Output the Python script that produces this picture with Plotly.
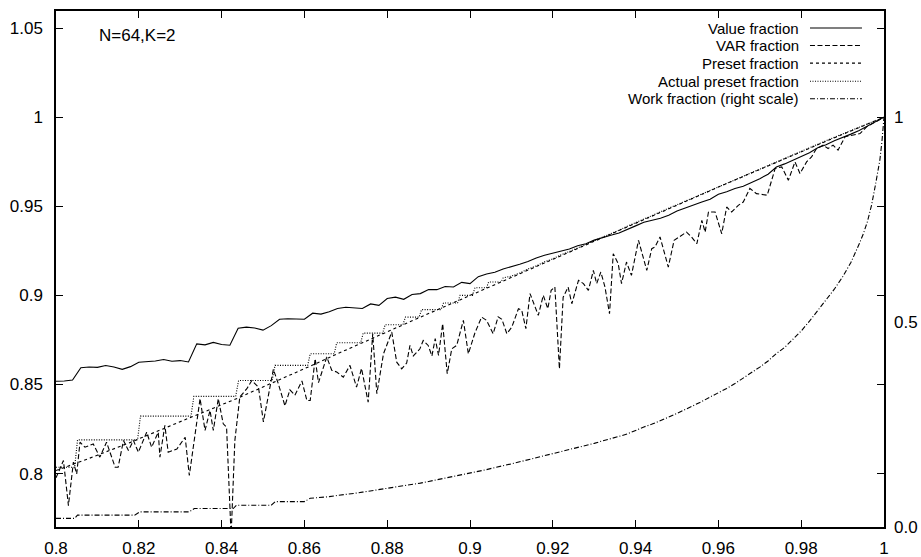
import numpy as np
import plotly.graph_objects as go

# ---------------- data ----------------
x_grid = np.round(np.linspace(0.8, 1.0, 101), 3)

value_fraction = [
    0.8518, 0.8519, 0.8525, 0.8594, 0.8598, 0.8596, 0.8606, 0.8598, 0.8585, 0.8600,
    0.8625, 0.8628, 0.8632, 0.8640, 0.8630, 0.8634, 0.8626, 0.8728, 0.8722, 0.8736,
    0.8724, 0.8720, 0.8815, 0.8822, 0.8817, 0.8805, 0.8830, 0.8866, 0.8869, 0.8867,
    0.8866, 0.8900, 0.8895, 0.8908, 0.8926, 0.8933, 0.8930, 0.8926, 0.8952, 0.8944,
    0.8982, 0.8990, 0.8978, 0.9005, 0.9010, 0.9033, 0.9032, 0.9050, 0.9047, 0.9073,
    0.9066, 0.9105, 0.9120, 0.9130, 0.9148, 0.9160, 0.9175, 0.9190, 0.9210, 0.9225,
    0.9238, 0.9250, 0.9260, 0.9278, 0.9290, 0.9310, 0.9325, 0.9337, 0.9350, 0.9368,
    0.9390, 0.9410, 0.9422, 0.9433, 0.9450, 0.9474, 0.9490, 0.9505, 0.9524, 0.9540,
    0.9568, 0.9582, 0.9600, 0.9612, 0.9632, 0.9655, 0.9680, 0.9720, 0.9738, 0.9760,
    0.9780, 0.9800, 0.9828, 0.9845, 0.9868, 0.9885, 0.9905, 0.9925, 0.9950, 0.9972,
    1.0000,
]

preset_fraction = [
    0.8017, 0.8033, 0.8050, 0.8068, 0.8085, 0.8103, 0.8120, 0.8138, 0.8155, 0.8175,
    0.8195, 0.8213, 0.8232, 0.8252, 0.8272, 0.8292, 0.8312, 0.8330, 0.8348, 0.8367,
    0.8385, 0.8404, 0.8424, 0.8445, 0.8465, 0.8486, 0.8506, 0.8527, 0.8547, 0.8568,
    0.8588, 0.8609, 0.8630, 0.8652, 0.8673, 0.8693, 0.8714, 0.8734, 0.8755, 0.8775,
    0.8796, 0.8816, 0.8837, 0.8857, 0.8878, 0.8898, 0.8918, 0.8939, 0.8959, 0.8980,
    0.9000, 0.9020, 0.9040, 0.9060, 0.9081, 0.9101, 0.9121, 0.9141, 0.9161, 0.9182,
    0.9202, 0.9222, 0.9242, 0.9263, 0.9283, 0.9303, 0.9323, 0.9344, 0.9364, 0.9384,
    0.9404, 0.9425, 0.9445, 0.9465, 0.9486, 0.9506, 0.9526, 0.9547, 0.9567, 0.9587,
    0.9608, 0.9628, 0.9648, 0.9669, 0.9689, 0.9709, 0.9729, 0.9749, 0.9768, 0.9788,
    0.9808, 0.9827, 0.9846, 0.9865, 0.9884, 0.9903, 0.9922, 0.9942, 0.9961, 0.9981,
    1.0000,
]

actual_x = [
    0.8000, 0.8045, 0.8052, 0.8197, 0.8204, 0.8326, 0.8333, 0.8434, 0.8441, 0.8522,
    0.8529, 0.8608, 0.8614, 0.8672, 0.8678, 0.8736, 0.8742, 0.8789, 0.8795, 0.8838,
    0.8844, 0.8877, 0.8883, 0.8930, 0.8936, 0.8970, 0.8976, 0.9006, 0.9012, 0.9040,
    0.9045, 0.9075, 0.9080, 0.9100, 0.9120, 0.9140, 0.9160, 0.9180, 0.9200, 0.9220,
    0.9240, 0.9260, 0.9280, 0.9300, 0.9320, 0.9340, 0.9360, 0.9380, 0.9400, 0.9420,
    0.9440, 0.9460, 0.9480, 0.9500, 0.9520, 0.9540, 0.9560, 0.9580, 0.9600, 0.9620,
    0.9640, 0.9660, 0.9680, 0.9700, 0.9720, 0.9740, 0.9760, 0.9780, 0.9800, 0.9820,
    0.9840, 0.9860, 0.9880, 0.9900, 0.9920, 0.9940, 0.9960, 0.9980, 1.0000,
]
actual_preset = [
    0.8035, 0.8035, 0.8189, 0.8189, 0.8322, 0.8322, 0.8433, 0.8433, 0.8522, 0.8522,
    0.8607, 0.8607, 0.8672, 0.8672, 0.8734, 0.8734, 0.8788, 0.8788, 0.8835, 0.8835,
    0.8878, 0.8878, 0.8920, 0.8920, 0.8957, 0.8957, 0.9000, 0.9000, 0.9043, 0.9043,
    0.9075, 0.9075, 0.9098, 0.9108, 0.9125, 0.9148, 0.9165, 0.9188, 0.9205, 0.9228,
    0.9246, 0.9268, 0.9286, 0.9307, 0.9326, 0.9348, 0.9366, 0.9388, 0.9407, 0.9429,
    0.9448, 0.9469, 0.9489, 0.9510, 0.9529, 0.9551, 0.9570, 0.9591, 0.9611, 0.9632,
    0.9651, 0.9672, 0.9692, 0.9712, 0.9732, 0.9752, 0.9771, 0.9791, 0.9811, 0.9830,
    0.9849, 0.9868, 0.9887, 0.9906, 0.9925, 0.9944, 0.9963, 0.9982, 1.0000,
]

var_x = [
    0.8000, 0.8018, 0.8030, 0.8042, 0.8050, 0.8058, 0.8070, 0.8090, 0.8106, 0.8122,
    0.8143, 0.8150, 0.8163, 0.8175, 0.8187, 0.8199, 0.8219, 0.8231, 0.8247, 0.8251,
    0.8263, 0.8271, 0.8292, 0.8312, 0.8322, 0.8348, 0.8360, 0.8372, 0.8380, 0.8392,
    0.8404, 0.8412, 0.8423, 0.8432, 0.8444, 0.8461, 0.8473, 0.8489, 0.8501, 0.8525,
    0.8537, 0.8553, 0.8565, 0.8577, 0.8594, 0.8606, 0.8614, 0.8626, 0.8634, 0.8654,
    0.8666, 0.8678, 0.8694, 0.8710, 0.8726, 0.8738, 0.8754, 0.8765, 0.8775, 0.8791,
    0.8811, 0.8823, 0.8835, 0.8847, 0.8855, 0.8863, 0.8879, 0.8887, 0.8899, 0.8908,
    0.8916, 0.8924, 0.8934, 0.8945, 0.8956, 0.8968, 0.8984, 0.8996, 0.9012, 0.9028,
    0.9040, 0.9056, 0.9068, 0.9077, 0.9089, 0.9101, 0.9117, 0.9125, 0.9135, 0.9145,
    0.9165, 0.9177, 0.9188, 0.9196, 0.9205, 0.9216, 0.9225, 0.9237, 0.9246, 0.9262,
    0.9274, 0.9286, 0.9298, 0.9306, 0.9316, 0.9326, 0.9337, 0.9346, 0.9358, 0.9366,
    0.9378, 0.9390, 0.9407, 0.9427, 0.9439, 0.9447, 0.9459, 0.9479, 0.9493, 0.9515,
    0.9523, 0.9535, 0.9548, 0.9560, 0.9568, 0.9576, 0.9592, 0.9608, 0.9620, 0.9632,
    0.9648, 0.9660, 0.9676, 0.9692, 0.9718, 0.9737, 0.9753, 0.9769, 0.9785, 0.9797,
    0.9813, 0.9825, 0.9837, 0.9853, 0.9865, 0.9877, 0.9889, 0.9906, 0.9926, 0.9942,
    0.9958, 1.0000,
]
var_fraction = [
    0.7976, 0.8073, 0.7820, 0.8064, 0.7998, 0.8176, 0.8148, 0.8166, 0.8092, 0.8176,
    0.8035, 0.8035, 0.8185, 0.8129, 0.8185, 0.8120, 0.8232, 0.8148, 0.8232, 0.8092,
    0.8270, 0.8120, 0.8138, 0.8204, 0.7989, 0.8420, 0.8242, 0.8354, 0.8242, 0.8420,
    0.8279, 0.8260, 0.7650, 0.8185, 0.8430, 0.8476, 0.8522, 0.8485, 0.8290, 0.8585,
    0.8504, 0.8380, 0.8470, 0.8440, 0.8520, 0.8410, 0.8410, 0.8644, 0.8510, 0.8654,
    0.8580, 0.8570, 0.8541, 0.8607, 0.8485, 0.8590, 0.8401, 0.8785, 0.8448, 0.8672,
    0.8794, 0.8625, 0.8588, 0.8620, 0.8719, 0.8660, 0.8700, 0.8747, 0.8719, 0.8660,
    0.8757, 0.8663, 0.8841, 0.8560, 0.8700, 0.8720, 0.8860, 0.8672, 0.8790, 0.8878,
    0.8860, 0.8785, 0.8880, 0.8866, 0.8785, 0.8822, 0.8925, 0.8916, 0.8813, 0.9010,
    0.8888, 0.9000, 0.8925, 0.9028, 0.9047, 0.8588, 0.8990, 0.9047, 0.8953, 0.9084,
    0.9066, 0.9028, 0.9140, 0.9066, 0.9131, 0.9047, 0.8897, 0.9234, 0.9178, 0.9066,
    0.9187, 0.9112, 0.9309, 0.9140, 0.9262, 0.9272, 0.9328, 0.9159, 0.9309, 0.9346,
    0.9355, 0.9328, 0.9290, 0.9421, 0.9355, 0.9468, 0.9468, 0.9346, 0.9496, 0.9468,
    0.9505, 0.9524, 0.9600, 0.9571, 0.9562, 0.9712, 0.9721, 0.9646, 0.9749, 0.9684,
    0.9749, 0.9777, 0.9824, 0.9843, 0.9824, 0.9843, 0.9815, 0.9890, 0.9899, 0.9908,
    0.9946, 1.0000,
]

work_x = [
    0.8000, 0.8045, 0.8052, 0.8190, 0.8203, 0.8322, 0.8334, 0.8428, 0.8436, 0.8520,
    0.8530, 0.8600, 0.8614, 0.8640, 0.8660, 0.8680, 0.8700, 0.8720, 0.8740, 0.8760,
    0.8780, 0.8800, 0.8820, 0.8840, 0.8860, 0.8880, 0.8900, 0.8920, 0.8940, 0.8960,
    0.8980, 0.9000, 0.9020, 0.9040, 0.9060, 0.9080, 0.9100, 0.9120, 0.9140, 0.9160,
    0.9180, 0.9200, 0.9220, 0.9240, 0.9260, 0.9280, 0.9300, 0.9320, 0.9340, 0.9360,
    0.9380, 0.9400, 0.9420, 0.9440, 0.9460, 0.9480, 0.9500, 0.9520, 0.9540, 0.9560,
    0.9580, 0.9600, 0.9620, 0.9640, 0.9660, 0.9680, 0.9700, 0.9720, 0.9740, 0.9760,
    0.9780, 0.9800, 0.9820, 0.9840, 0.9860, 0.9880, 0.9900, 0.9920, 0.9940, 0.9950,
    0.9960, 0.9970, 0.9980, 0.9990, 0.9995, 1.0000,
]
work_fraction = [
    0.021, 0.021, 0.029, 0.029, 0.037, 0.037, 0.045, 0.045, 0.053, 0.053,
    0.062, 0.062, 0.070, 0.072, 0.074, 0.077, 0.079, 0.082, 0.085, 0.088,
    0.091, 0.094, 0.097, 0.100, 0.103, 0.107, 0.111, 0.115, 0.119, 0.123,
    0.127, 0.132, 0.136, 0.140, 0.145, 0.149, 0.154, 0.159, 0.164, 0.169,
    0.174, 0.179, 0.183, 0.188, 0.193, 0.198, 0.204, 0.210, 0.215, 0.221,
    0.227, 0.236, 0.244, 0.251, 0.259, 0.268, 0.277, 0.286, 0.296, 0.306,
    0.317, 0.327, 0.338, 0.350, 0.363, 0.376, 0.390, 0.405, 0.423, 0.438,
    0.458, 0.478, 0.502, 0.528, 0.555, 0.580, 0.610, 0.645, 0.690, 0.715,
    0.745, 0.785, 0.838, 0.895, 0.940, 1.000,
]

x_ticks = [0.8, 0.82, 0.84, 0.86, 0.88, 0.9, 0.92, 0.94, 0.96, 0.98, 1.0]
x_tick_text = ["0.8", "0.82", "0.84", "0.86", "0.88", "0.9", "0.92", "0.94", "0.96", "0.98", "1"]
y_ticks = [0.8, 0.85, 0.9, 0.95, 1.0, 1.05]
y_tick_text = ["0.8", "0.85", "0.9", "0.95", "1", "1.05"]
y2_ticks = [0.0, 0.5, 1.0]
y2_tick_text = ["0.0", "0.5", "1"]

series_names = ["Value fraction", "VAR fraction", "Preset fraction",
                "Actual preset fraction", "Work fraction (right scale)"]
series_dash = ["solid", "5px,2.5px", "3px,3px", "1px,1.5px", "5px,2px,1px,2px"]

# ---------------- figure ----------------
FONT = "Liberation Sans, Arial, Helvetica, sans-serif"
LW = 1.1

fig = go.Figure()
fig.add_trace(go.Scatter(x=x_grid, y=value_fraction, mode="lines",
                         line=dict(color="black", width=LW, dash=series_dash[0]),
                         name=series_names[0]))
fig.add_trace(go.Scatter(x=var_x, y=var_fraction, mode="lines",
                         line=dict(color="black", width=LW, dash=series_dash[1]),
                         name=series_names[1]))
fig.add_trace(go.Scatter(x=x_grid, y=preset_fraction, mode="lines",
                         line=dict(color="black", width=LW, dash=series_dash[2]),
                         name=series_names[2]))
fig.add_trace(go.Scatter(x=actual_x, y=actual_preset, mode="lines",
                         line=dict(color="black", width=LW, dash=series_dash[3]),
                         name=series_names[3]))
fig.add_trace(go.Scatter(x=work_x, y=work_fraction, mode="lines", yaxis="y2",
                         line=dict(color="black", width=LW, dash=series_dash[4]),
                         name=series_names[4]))

axis_common = dict(showgrid=False, zeroline=False, showline=True, linecolor="black",
                   linewidth=1.5, ticks="inside", ticklen=7, tickwidth=1.2,
                   tickcolor="black", mirror="ticks", automargin=False,
                   tickfont=dict(family=FONT, size=17, color="black"))

fig.update_layout(
    width=921, height=557,
    margin=dict(l=56, r=37, t=11, b=30),
    paper_bgcolor="white", plot_bgcolor="white",
    showlegend=False,
    xaxis=dict(range=[0.8, 1.0], tickvals=x_ticks, ticktext=x_tick_text,
               ticklabelstandoff=5, **axis_common),
    yaxis=dict(range=[0.77, 1.0596], tickvals=y_ticks, ticktext=y_tick_text,
               ticklabelstandoff=8, **axis_common),
    yaxis2=dict(overlaying="y", side="right", range=[0, 1.2585],
                tickvals=y2_ticks, ticktext=y2_tick_text, ticks="",
                showline=False, showgrid=False, zeroline=False, automargin=False,
                ticklabelstandoff=9,
                tickfont=dict(family=FONT, size=17, color="black")),
)

# annotation N=64,K=2
fig.add_annotation(xref="paper", yref="paper", x=0.0495, y=0.9516,
                   text="N=64,K=2", showarrow=False, xanchor="left", yanchor="middle",
                   font=dict(family=FONT, size=17, color="black"))

# manual gnuplot-style key (text right-aligned, sample to the right)
row_y = [0.967, 0.933, 0.899, 0.864, 0.830]
for name, dash, yy in zip(series_names, series_dash, row_y):
    fig.add_annotation(xref="paper", yref="paper", x=0.8986, y=yy, text=name,
                       showarrow=False, xanchor="right", yanchor="middle",
                       borderpad=0,
                       font=dict(family=FONT, size=15, color="black"))
    fig.add_shape(type="line", xref="paper", yref="paper",
                  x0=0.9106, x1=0.9734, y0=yy, y1=yy,
                  line=dict(color="black", width=LW, dash=dash))

fig.write_html("out.html")
